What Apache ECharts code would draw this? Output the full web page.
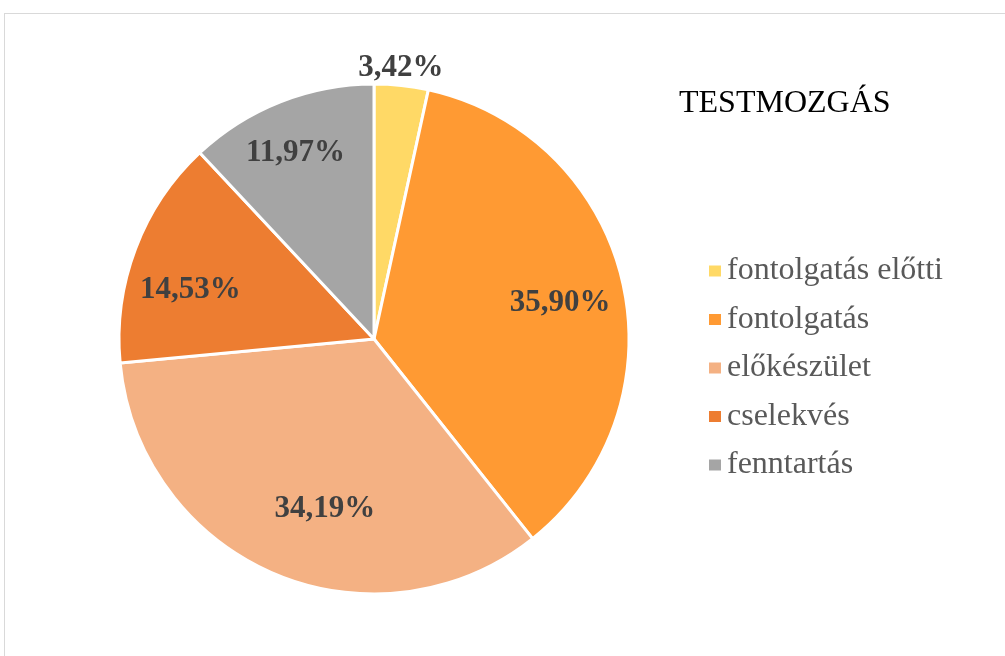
<!DOCTYPE html>
<html>
<head>
<meta charset="utf-8">
<script src="https://cdn.jsdelivr.net/npm/echarts@6/dist/echarts.min.js"></script>
<style>
  html, body { margin: 0; padding: 0; background: #fff; }
  #wrap { position: relative; width: 1005px; height: 656px; overflow: hidden; }
  #chart { position: absolute; left: 0; top: 0; width: 1005px; height: 656px; }
  #frame { position: absolute; left: 4px; top: 13px; width: 1100px; height: 700px;
           border: 1.5px solid #d9d9d9; pointer-events: none; }
</style>
</head>
<body>
<div id="wrap">
  <div id="chart"></div>
  <div id="frame"></div>
</div>
<script>
const titleText = 'TESTMOZGÁS';
const categories = ['fontolgatás előtti', 'fontolgatás', 'előkészület', 'cselekvés', 'fenntartás'];
const values = [3.42, 35.90, 34.19, 14.53, 11.97];
const colors = ['#FFD966', '#FF9A33', '#F4B183', '#ED7D31', '#A5A5A5'];
// which labels sit outside the pie
const outsideLabel = [true, false, false, false, false];
// small nudges of the data labels (style only)
const labelNudge = [[-3, 5], [2, 7], [25, -4], [-7, 18], [-9, -10]];

const fmt = v => v.toFixed(2).replace('.', ',') + '%';
const serif = '"Liberation Serif", "Times New Roman", serif';
const labelStyle = { fontFamily: serif, fontSize: 31, fontWeight: 'bold', color: '#404040' };

const mainData = categories.map((c, i) => ({ name: c, value: values[i], itemStyle: { color: colors[i] } }));
const innerLabelData = categories.map((c, i) => ({
  name: c, value: values[i],
  label: { show: !outsideLabel[i], offset: labelNudge[i] }
}));
const outerLabelData = categories.map((c, i) => ({
  name: c, value: values[i],
  label: { show: outsideLabel[i], offset: labelNudge[i] }
}));

const center = [374, 339];
const chart = echarts.init(document.getElementById('chart'), null, { renderer: 'canvas' });
chart.setOption({
  animation: false,
  backgroundColor: 'transparent',
  title: {
    text: titleText, left: 679, top: 88, padding: 0,
    textStyle: { fontFamily: serif, fontSize: 32, fontWeight: 'normal', color: '#000' }
  },
  legend: {
    orient: 'vertical', left: 707, top: 255, padding: 0,
    data: categories,
    icon: 'rect', itemWidth: 14, itemHeight: 13, itemGap: 16.5,
    textStyle: { fontFamily: serif, fontSize: 32, lineHeight: 32, color: '#595959' },
    selectedMode: false
  },
  series: [
    {
      type: 'pie', center: center, radius: [0, 255],
      startAngle: 90, clockwise: true,
      data: mainData,
      itemStyle: { borderColor: '#fff', borderWidth: 3 },
      label: { show: false }, labelLine: { show: false },
      emphasis: { disabled: true }, silent: true
    },
    {
      type: 'pie', center: center, radius: [117, 255],
      startAngle: 90, clockwise: true,
      data: innerLabelData,
      itemStyle: { color: 'rgba(0,0,0,0)', borderWidth: 0 },
      label: Object.assign({ position: 'inside', formatter: p => fmt(p.value) }, labelStyle),
      labelLine: { show: false },
      emphasis: { disabled: true }, silent: true
    },
    {
      type: 'pie', center: center, radius: [255, 295],
      startAngle: 90, clockwise: true,
      data: outerLabelData,
      itemStyle: { color: 'rgba(0,0,0,0)', borderWidth: 0 },
      label: Object.assign({ position: 'inside', formatter: p => fmt(p.value) }, labelStyle),
      labelLine: { show: false },
      emphasis: { disabled: true }, silent: true
    }
  ]
});
</script>
</body>
</html>
